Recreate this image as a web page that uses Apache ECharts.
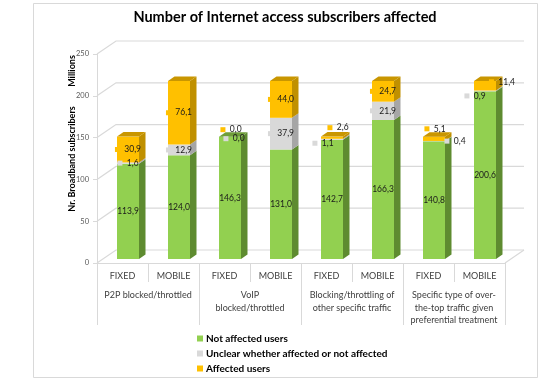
<!DOCTYPE html>
<html><head><meta charset="utf-8">
<script src="https://cdn.jsdelivr.net/npm/echarts@6/dist/echarts.min.js"></script>
<style>html,body{margin:0;padding:0;background:#fff}#c{width:550px;height:383px}</style>
</head><body><div id="c"></div>
<script>
const categories = ['FIXED','MOBILE','FIXED','MOBILE','FIXED','MOBILE','FIXED','MOBILE'];
const groups = ['P2P blocked/throttled','VoIP\nblocked/throttled','Blocking/throttling of\nother specific traffic','Specific type of over-\nthe-top traffic given\npreferential treatment'];
const notAffected = [113.9,124.0,146.3,131.0,142.7,166.3,140.8,200.6];
const unclear     = [1.6,12.9,0.0,37.9,1.1,21.9,0.4,0.9];
const affected    = [30.9,76.1,0.0,44.0,2.6,24.7,5.1,11.4];
const yTicks = [0,50,100,150,200,250];
const seriesNames = ['Not affected users','Unclear whether affected or not affected','Affected users'];

const FONT = 'Lato, "Liberation Sans", sans-serif';
const front = ['#92D050','#D9D9D9','#FFC000'];
const side  = ['#5E8B30','#A6A6A6','#C09000'];
const topc  = ['#6F9E3A','#BFBFBF','#C99600'];
const DX = 5.5, DY = -4, SX = 6.5, SY = -4.5, BAR_W = 22, WDX = 19, WDY = -13;
// label nudges (series-index) -> [dx, dy] in px
const labelNudge = {'1-2':[4,2],'2-2':[1,-7],'1-4':[-9,4],'2-4':[6,-10],'1-6':[21,0],'2-6':[1,-10],'1-7':[-10,5],'2-7':[17,-4]};

const seriesVals = [notAffected, unclear, affected];
function fmt(v){ return v.toFixed(1).replace('.', ','); }

function buildData(s){
  return categories.map((c,i)=>{
    let base = 0; for (let k=0;k<s;k++) base += seriesVals[k][i];
    let topIdx = 0; for (let k=0;k<3;k++) if (seriesVals[k][i] > 0) topIdx = k;
    return [i, base, seriesVals[s][i], topIdx === s ? 1 : 0];
  });
}

function barRender(s){
  return function(params, api){
    const i = api.value(0), base = api.value(1), v = api.value(2), isTop = api.value(3);
    const pb = api.coord([i, base]), pt = api.coord([i, base + v]);
    const cx = pb[0] + DX, x0 = cx - BAR_W/2, x1 = cx + BAR_W/2;
    const yb = pb[1] + DY, yt = pt[1] + DY;
    const ch = [];
    if (v > 0) {
      ch.push({type:'rect', shape:{x:x0, y:yt, width:BAR_W, height:yb-yt}, style:{fill:front[s]}});
      ch.push({type:'polygon', shape:{points:[[x1,yt],[x1+SX,yt+SY],[x1+SX,yb+SY],[x1,yb]]}, style:{fill:side[s]}});
    }
    if (isTop) {
      ch.push({type:'polygon', shape:{points:[[x0,yt],[x0+SX,yt+SY],[x1+SX,yt+SY],[x1,yt]]}, style:{fill:topc[s]}});
    }
    const nd = labelNudge[s + '-' + i] || [0,0];
    const txt = s === 0 ? fmt(v) : '{k|}  ' + fmt(v);
    ch.push({type:'text', x: cx + nd[0], y: (yt + yb)/2 + nd[1], z2: 100,
      style:{text: txt, fill:'#1a1a1a', fontSize:8.5, fontFamily:FONT, align:'center', verticalAlign:'middle',
        rich:{k:{width:5, height:5, backgroundColor: front[s]}}}});
    return {type:'group', children: ch};
  };
}

const series = [{
  type:'custom', z:1, silent:true,
  data: yTicks.map(v => [0, v]),
  renderItem: function(params, api){
    const cs = params.coordSys;
    const y = api.coord([0, api.value(1)])[1];
    const xa = cs.x, xb = cs.x + cs.width;
    const ch = [{type:'polyline', shape:{points:[[xa,y],[xa+WDX,y+WDY],[xb+WDX,y+WDY]]}, style:{stroke:'#D9D9D9', lineWidth:1.2, fill:null}}];
    if (api.value(1) === 0) ch.push({type:'line', shape:{x1:xb, y1:y, x2:xb+WDX, y2:y+WDY}, style:{stroke:'#D9D9D9', lineWidth:1.2}});
    return {type:'group', children: ch};
  }
}];
for (let s=0;s<3;s++){
  series.push({type:'custom', name: seriesNames[s], z: 3, itemStyle:{color: front[s]},
    data: buildData(s), renderItem: barRender(s)});
}

const chart = echarts.init(document.getElementById('c'), null, {renderer:'canvas'});
chart.setOption({
  animation:false,
  backgroundColor:'#fff',
  grid:{left:97, right:45, top:54, bottom:120},
  xAxis:[{
    type:'category', data: categories, position:'bottom',
    axisLine:{show:true, lineStyle:{color:'#D9D9D9'}},
    axisTick:{show:true, length:19, interval:0, lineStyle:{color:'#D9D9D9'}},
    axisLabel:{interval:0, margin:7, fontSize:9, fontFamily:FONT, color:'#404040', lineHeight:12},
    splitLine:{show:false}
  },{
    type:'category', data: groups, position:'bottom',
    axisLine:{show:false},
    axisTick:{show:true, length:62, interval:0, lineStyle:{color:'#D9D9D9'}},
    axisLabel:{interval:0, margin:26, fontSize:9, fontFamily:FONT, color:'#404040', lineHeight:12.5},
    splitLine:{show:false}
  }],
  yAxis:{type:'value', min:0, max:250, interval:50,
    axisLine:{show:true, lineStyle:{color:'#D9D9D9'}},
    axisTick:{show:true, length:4, lineStyle:{color:'#D9D9D9'}},
    axisLabel:{fontSize:7.5, fontFamily:FONT, color:'#595959', margin:8},
    splitLine:{show:false}
  },
  legend:{data: seriesNames, orient:'vertical', left:197, top:332, padding:0, height:50, icon:'rect', itemWidth:6, itemHeight:6, itemGap:2,
    selectedMode:false,
    textStyle:{fontSize:10, fontWeight:'bold', fontFamily:FONT, color:'#000', lineHeight:13, padding:[0,0,0,-2]}},
  graphic:[
    {type:'rect', shape:{x:33.5, y:3.5, width:504, height:374}, style:{fill:null, stroke:'#D9D9D9', lineWidth:1}, silent:true},
    {type:'text', x:285, y:17, style:{text:'Number of Internet access subscribers affected', fontSize:14.5, fontWeight:'bold', fontFamily:FONT, fill:'#000', align:'center', verticalAlign:'middle'}},
    {type:'text', x:72, y:159, rotation:Math.PI/2, style:{text:'Nr. Broadband subscribers', fontSize:9, fontWeight:'bold', fontFamily:FONT, fill:'#000', align:'center', verticalAlign:'middle'}},
    {type:'text', x:72, y:71, rotation:Math.PI/2, style:{text:'Millions', fontSize:9, fontWeight:'bold', fontFamily:FONT, fill:'#000', align:'center', verticalAlign:'middle'}}
  ],
  series: series
});
</script></body></html>
